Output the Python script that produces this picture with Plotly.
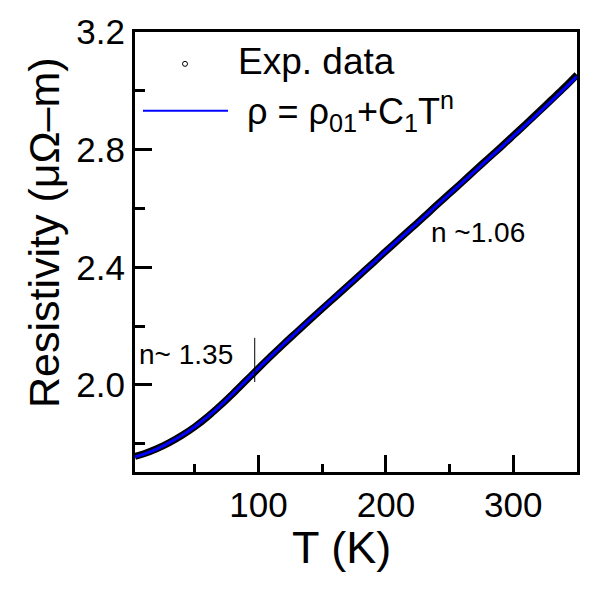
import plotly.graph_objects as go

# ---- data ----
T_exp = [3, 10, 20, 30, 40, 50, 60, 70, 80, 90, 100, 110, 120, 130, 140, 150,
         160, 170, 180, 190, 200, 210, 220, 230, 240, 250, 260, 270, 280, 290,
         300, 310, 320, 330, 340, 350]
rho_exp = [1.757, 1.766, 1.783, 1.804, 1.829, 1.858, 1.892, 1.930, 1.971, 2.014,
           2.057, 2.099, 2.140, 2.180, 2.220, 2.259, 2.298, 2.337, 2.376, 2.415,
           2.455, 2.494, 2.533, 2.572, 2.612, 2.651, 2.690, 2.730, 2.769, 2.808,
           2.848, 2.888, 2.929, 2.970, 3.011, 3.055]

T_fit = [3, 10, 20, 30, 40, 50, 60, 70, 80, 90, 100, 110, 120, 130, 140, 150,
         160, 170, 180, 190, 200, 210, 220, 230, 240, 250, 260, 270, 280, 290,
         300, 310, 320, 330, 340, 350]
rho_fit = [1.756, 1.765, 1.782, 1.804, 1.829, 1.858, 1.892, 1.930, 1.971, 2.014,
           2.057, 2.099, 2.140, 2.180, 2.220, 2.259, 2.298, 2.337, 2.376, 2.415,
           2.455, 2.494, 2.532, 2.571, 2.611, 2.650, 2.689, 2.728, 2.767, 2.806,
           2.846, 2.885, 2.925, 2.966, 3.007, 3.049]

x_range = [3, 350]
y_range = [1.704, 3.2]

label_exp = "Exp. data"
label_fit = "ρ = ρ<sub>01</sub>+C<sub>1</sub>T<sup>n</sup>"
ann_low = "n~ 1.35"
ann_high = "n ~1.06"
x_title = "T (K)"
y_title = "Resistivity (μΩ–m)"

FONT = "Liberation Sans, Arial, Helvetica, sans-serif"

fig = go.Figure()
fig.add_trace(go.Scatter(x=T_exp, y=rho_exp, mode="lines", name=label_exp,
                         line=dict(color="black", width=7, shape="spline", smoothing=1.0),
                         showlegend=False))
fig.add_trace(go.Scatter(x=T_fit, y=rho_fit, mode="lines", name=label_fit,
                         line=dict(color="#0000ff", width=3, shape="spline", smoothing=1.0),
                         showlegend=False))

L, R, TOP, B = 135, 15, 30, 120
W = H = 592
pw = W - L - R
ph = H - TOP - B


def px(xp):
    return (xp - L) / pw


def py(yp):
    return (H - B - yp) / ph


# manual legend
fig.add_shape(type="circle", xref="paper", yref="paper",
              xsizemode="pixel", ysizemode="pixel",
              xanchor=px(185), yanchor=py(62),
              x0=-2.5, x1=2.5, y0=-2.5, y1=2.5,
              line=dict(color="black", width=1), fillcolor="white")
fig.add_shape(type="line", xref="paper", yref="paper",
              x0=px(143), x1=px(228), y0=py(109), y1=py(109),
              line=dict(color="#0000ff", width=2))
fig.add_annotation(text=label_exp, xref="paper", yref="paper",
                   x=px(236), y=py(60), xanchor="left", yanchor="middle",
                   showarrow=False, font=dict(size=37, family=FONT, color="black"))
fig.add_annotation(text=label_fit, xref="paper", yref="paper",
                   x=px(245), y=py(110), xanchor="left", yanchor="middle",
                   showarrow=False, font=dict(size=36, family=FONT, color="black"))

# text annotations
fig.add_annotation(text=ann_low, x=4.5, y=2.105, xanchor="left", yanchor="middle",
                   showarrow=False, font=dict(size=28, family=FONT, color="black"))
fig.add_annotation(text=ann_high, x=234, y=2.517, xanchor="left", yanchor="middle",
                   showarrow=False, font=dict(size=28, family=FONT, color="black"))
fig.add_shape(type="line", x0=97, x1=97, y0=2.01, y1=2.16,
              line=dict(color="black", width=1))

# axis titles placed as annotations (offset from centre, as in reference)
fig.add_annotation(text=x_title, xref="paper", yref="paper",
                   x=px(341), y=py(548), xanchor="center", yanchor="middle",
                   showarrow=False, font=dict(size=45, family=FONT, color="black"))
fig.add_annotation(text=y_title, xref="paper", yref="paper", textangle=-90,
                   x=px(44), y=py(232), xanchor="center", yanchor="middle",
                   showarrow=False, font=dict(size=43, family=FONT, color="black"))

axis_common = dict(
    showgrid=False, zeroline=False, showline=True, linecolor="black",
    linewidth=3, mirror=True, ticks="inside", tickcolor="black",
    tickwidth=3, ticklen=17,
    tickfont=dict(size=35, family=FONT, color="black"),
)

fig.update_xaxes(range=x_range, tick0=0, dtick=100,
                 minor=dict(ticks="inside", dtick=50, tick0=0, ticklen=8,
                            tickwidth=3, tickcolor="black"),
                 **axis_common)
fig.update_yaxes(range=y_range, tick0=0, dtick=0.4, tickformat=".1f",
                 minor=dict(ticks="inside", dtick=0.2, tick0=0, ticklen=10,
                            tickwidth=3, tickcolor="black"),
                 **axis_common)

fig.update_layout(width=W, height=H, margin=dict(l=L, r=R, t=TOP, b=B),
                  plot_bgcolor="white", paper_bgcolor="white", showlegend=False)

fig.write_html("out.html")
